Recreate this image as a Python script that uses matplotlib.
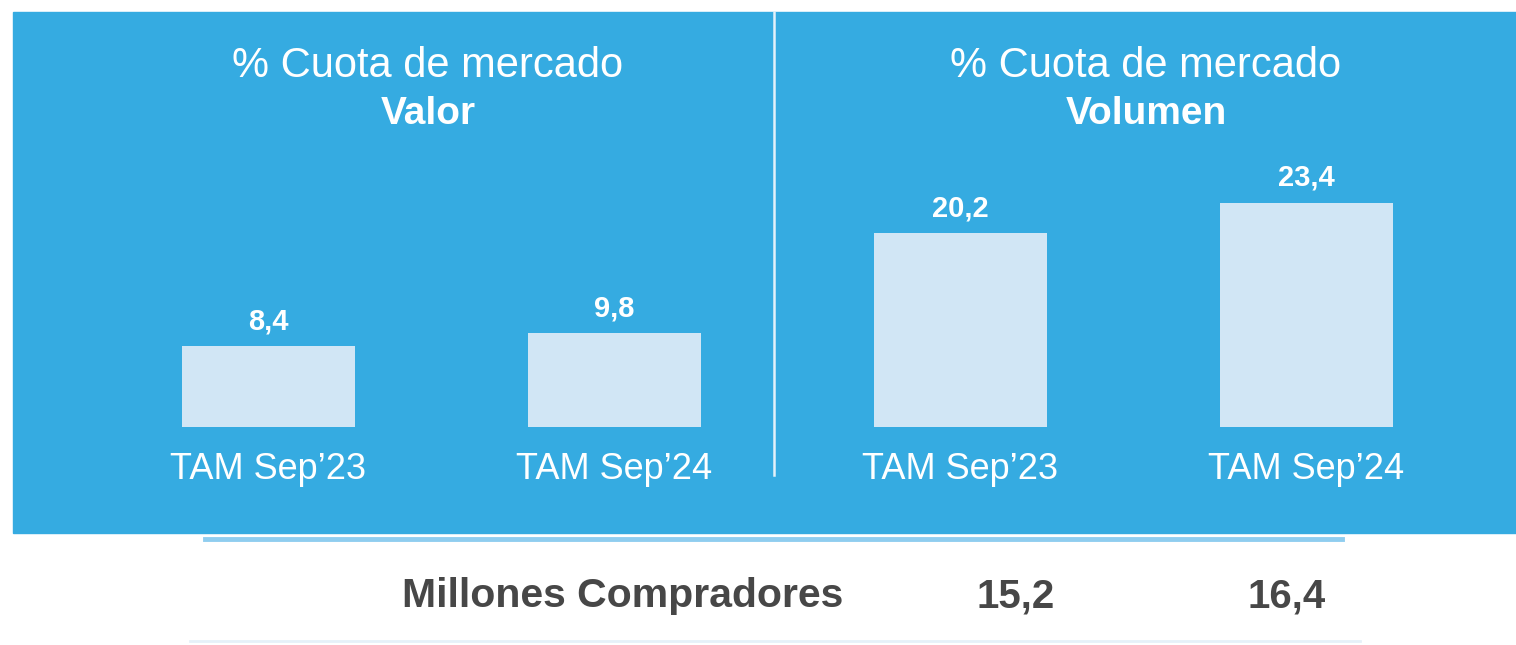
import matplotlib.pyplot as plt
from matplotlib.patches import Rectangle
from matplotlib.lines import Line2D

plt.rcParams['font.family'] = ['Liberation Sans', 'DejaVu Sans']

# data
periods = ["TAM Sep\u201923", "TAM Sep\u201924"]
valor = [8.4, 9.8]
volumen = [20.2, 23.4]
compradores = [15.2, 16.4]

BLUE = "#35abe1"
BAR = "#d1e6f5"
GREY = "#474747"

def fmt(v):
    return f"{v:.1f}".replace(".", ",")

W, H = 1516, 645
fig = plt.figure(figsize=(W / 100, H / 100), dpi=100)

# blue panel + light strip under it
fig.patches.append(Rectangle((13 / W, 1 - 533 / H), 1 - 13 / W, (533 - 12) / H,
                             transform=fig.transFigure, color=BLUE, zorder=-10))
fig.lines.append(Line2D([205 / W, 1342 / W], [1 - 539 / H] * 2, transform=fig.transFigure,
                        color="#8fcdef", lw=3.5))
fig.lines.append(Line2D([190 / W, 1360 / W], [1 - 641 / H] * 2, transform=fig.transFigure,
                        color="#e6f1f9", lw=2))
# divider between panels
fig.lines.append(Line2D([774 / W] * 2, [1 - 475 / H, 1 - 12 / H], transform=fig.transFigure,
                        color="#e3f1fa", lw=1.8))

ax = fig.add_axes([13 / W, 1 - 427 / H, 1 - 13 / W, (427 - 12) / H])
ax.patch.set_alpha(0)
values = valor + volumen
labels = periods + periods
xs = list(range(len(values)))
bars = ax.bar(xs, values, width=0.5, color=BAR)
ax.set_xlim(-0.7384, 3.6055)
ax.set_ylim(0, 43.3)

for b, v in zip(bars, values):
    ax.annotate(fmt(v), (b.get_x() + b.get_width() / 2, b.get_height()),
                xytext=(0, 18), textcoords="offset points", ha="center", va="center",
                color="white", fontsize=21, fontweight="bold")

ax.set_xticks(xs, labels=labels)
ax.tick_params(axis="x", length=0, pad=18, labelsize=26, labelcolor="white")
ax.set_yticks([])
for s in ax.spines.values():
    s.set_visible(False)

# panel titles
for cx, sub in [(428, "Valor"), (1146, "Volumen")]:
    fig.text(cx / W, 1 - 66 / H, "% Cuota de mercado", ha="center", va="center",
             color="white", fontsize=30)
    fig.text(cx / W, 1 - 114 / H, sub, ha="center", va="center",
             color="white", fontsize=28, fontweight="bold")

# buyers row
fig.text(843 / W, 1 - 596 / H, "Millones Compradores", ha="right", va="center",
         color=GREY, fontsize=29.5, fontweight="bold")
for cx, v in zip([1016, 1287], compradores):
    fig.text(cx / W, 1 - 596 / H, fmt(v), ha="center", va="center",
             color=GREY, fontsize=29, fontweight="bold")

fig.savefig("out.png", dpi=100)
